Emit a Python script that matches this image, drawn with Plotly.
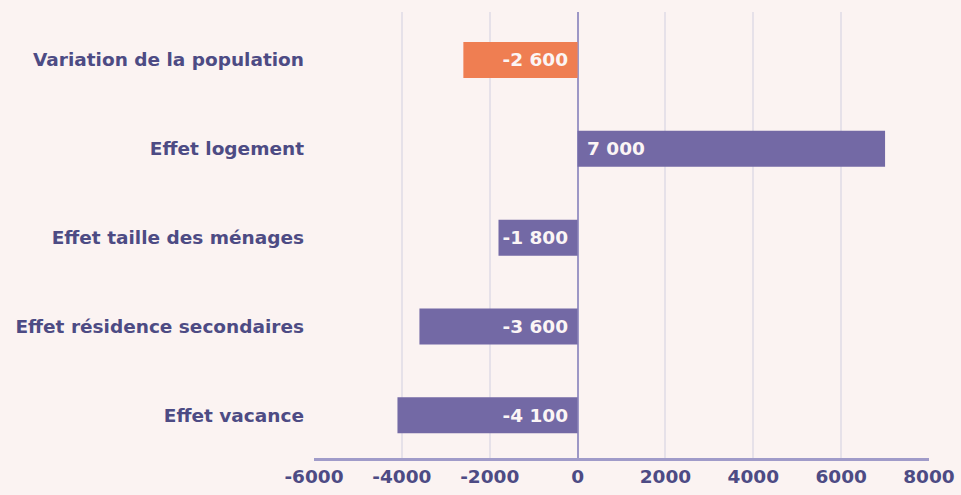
import plotly.graph_objects as go

categories = [
    "Variation de la population",
    "Effet logement",
    "Effet taille des ménages",
    "Effet résidence secondaires",
    "Effet vacance",
]
values = [-2600, 7000, -1800, -3600, -4100]
bar_colors = ["#EF7E52", "#7369A5", "#7369A5", "#7369A5", "#7369A5"]
tick_values = [-6000, -4000, -2000, 0, 2000, 4000, 6000, 8000]
tick_labels = ["-6000", "-4000", "-2000", "0", "2000", "4000", "6000", "8000"]

FONT = "DejaVu Sans"
TEXT_COLOR = "#4D4B84"
PAD = "\u00a0"


def fmt(v):
    s = f"{abs(v):,}".replace(",", " ")
    # keep a little breathing room between the label and the zero line
    return f"-{s}{PAD}" if v < 0 else f"{PAD}{s}"


fig = go.Figure(
    go.Bar(
        y=categories,
        x=values,
        orientation="h",
        marker=dict(color=bar_colors, line=dict(width=0)),
        width=0.405,
        text=[fmt(v) for v in values],
        textposition="inside",
        insidetextanchor="start",
        textfont=dict(color="#FBF5F5", size=18.5, family=FONT, weight="bold"),
        cliponaxis=False,
    )
)

fig.update_layout(
    width=961,
    height=495,
    margin=dict(l=314, r=32, t=12, b=37, autoexpand=False),
    paper_bgcolor="#FBF3F2",
    plot_bgcolor="#FBF3F2",
    showlegend=False,
    font=dict(family=FONT, color=TEXT_COLOR),
    xaxis=dict(
        range=[-6000, 8000],
        tickvals=tick_values,
        ticktext=tick_labels,
        showgrid=True,
        gridcolor="#E6E1E9",
        gridwidth=2,
        zeroline=True,
        zerolinecolor="#9D97C6",
        zerolinewidth=2,
        showline=True,
        linecolor="#A09BC9",
        linewidth=3,
        tickfont=dict(size=18.5, color=TEXT_COLOR, weight="bold"),
        ticklabelstandoff=0,
        automargin=False,
        fixedrange=True,
    ),
    yaxis=dict(
        categoryorder="array",
        categoryarray=categories[::-1],
        range=[-0.48, 4.54],
        showgrid=False,
        zeroline=False,
        showline=False,
        tickfont=dict(size=18.5, color=TEXT_COLOR, weight="bold"),
        ticklabelstandoff=9,
        automargin=False,
        fixedrange=True,
    ),
)

fig.write_html("out.html")
